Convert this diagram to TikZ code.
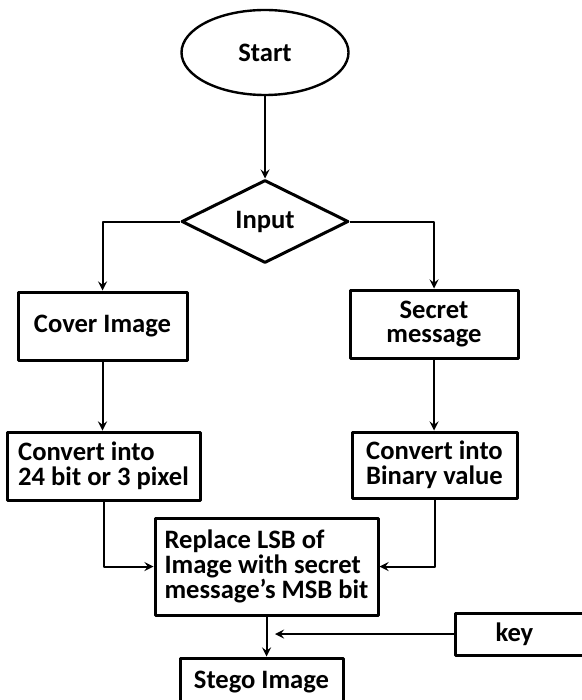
\documentclass[tikz,border=0pt]{standalone}
\usepackage{fontspec}
\setmainfont{Carlito}
\usetikzlibrary{shapes.geometric}
\begin{document}
\begin{tikzpicture}[x=0.5pt,y=-0.5pt,>=stealth,line join=round,
    font=\fontsize{13.3}{12.3}\selectfont\bfseries,
    box/.style={draw,line width=1.5pt,inner sep=0pt},
    arr/.style={->,line width=1pt}]
    \useasboundingbox (0,0) rectangle (582,700);
    \clip (0,0) rectangle (582,700);
    % blocks
    \node[box,ellipse,line width=1.2pt,minimum width=83.5pt,minimum height=42.5pt] (start) at (265,52.5) {Start};
    \node[box,diamond,aspect=2,minimum width=83.5pt,minimum height=41.5pt] (input) at (265,221.5) {Input};
    \node[box,minimum width=84.5pt,minimum height=34pt] (cover) at (102.5,326) {Cover Image};
    \node[box,align=center,minimum width=84pt,minimum height=34pt] (secret) at (434,324) {Secret\\ message};
    \node[box,align=left,minimum width=96.5pt,minimum height=34pt] (conv1) at (103.5,466) {Convert into\\24 bit or 3 pixel};
    \node[box,align=left,minimum width=82.5pt,minimum height=33pt] (conv2) at (434.5,465) {Convert into\\Binary value};
    \node[box,align=left,minimum width=111.5pt,minimum height=48.5pt] (replace) at (266.5,566.5) {Replace LSB of\\Image with secret\\message's MSB bit};
    \node[box,minimum width=81.5pt,minimum height=24pt] (stego) at (261.5,682) {Stego Image};
    \node[box,anchor=west,align=left,text width=60pt,inner xsep=20pt,minimum height=21pt] (key) at (454,634) {key};
    \coordinate (keyin) at (275,634);
    % connectors
    \draw[arr] (start.south) -- (input.north);
    \draw[arr] (input.west) -| (cover.north);
    \draw[arr] (input.east) -| (secret.north);
    \draw[arr] (cover.south) -- (cover.south |- conv1.north);
    \draw[arr] (secret.south) -- (secret.south |- conv2.north);
    \draw[arr] (conv1.south) |- (replace.west);
    \draw[arr] (conv2.south) |- (replace.east);
    \draw[arr] (replace.south) -- (replace.south |- stego.north);
    \draw[arr] (key.west) -- (keyin);
\end{tikzpicture}
\end{document}
